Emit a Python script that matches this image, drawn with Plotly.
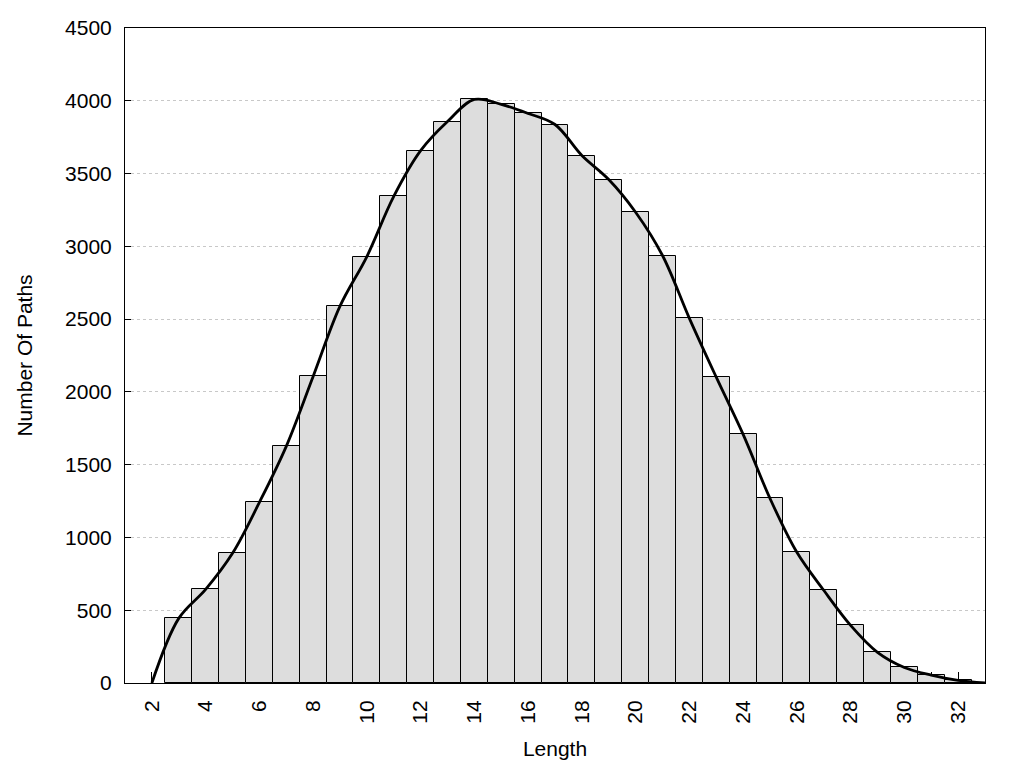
import plotly.graph_objects as go

# Data
lengths = list(range(3, 33))
counts = [444, 643, 891, 1241, 1626, 2106, 2589, 2930, 3343, 3657,
          3857, 4009, 3975, 3913, 3837, 3624, 3459, 3234, 2937, 2505,
          2101, 1708, 1268, 898, 637, 396, 211, 107, 54, 18]

curve_x = [2] + lengths + [33]
curve_y = [0] + counts + [0]

x_tickvals = list(range(2, 33))
x_ticktext = [str(v) if v % 2 == 0 else "" for v in x_tickvals]
y_tickvals = [0, 500, 1000, 1500, 2000, 2500, 3000, 3500, 4000, 4500]

FONT = "Liberation Sans, Arial, sans-serif"

fig = go.Figure()
fig.add_trace(go.Bar(
    x=lengths, y=counts, width=1,
    marker=dict(color="#dddddd", line=dict(color="black", width=1)),
    showlegend=False,
))
fig.add_trace(go.Scatter(
    x=curve_x, y=curve_y, mode="lines",
    line=dict(color="black", width=2.8, shape="spline", smoothing=1.0),
    showlegend=False,
))

fig.update_layout(
    width=1024, height=768,
    margin=dict(l=117, r=47, t=20, b=93),
    paper_bgcolor="white", plot_bgcolor="white",
    font=dict(family=FONT, size=21, color="black"),
    bargap=0,
)
fig.update_xaxes(
    range=[1, 33], automargin=False,
    tickmode="array", tickvals=x_tickvals, ticktext=x_ticktext,
    tickangle=-90,
    ticks="inside", ticklen=11, tickcolor="black", tickwidth=1,
    ticklabelstandoff=8,
    showline=True, linecolor="black", linewidth=1, mirror=True,
    showgrid=False, zeroline=False, layer="below traces",
    title=dict(text="Length", standoff=18, font=dict(size=21)),
    tickfont=dict(size=21),
)
fig.update_yaxes(
    range=[0, 4500], automargin=False,
    tickmode="array", tickvals=y_tickvals,
    ticks="inside", ticklen=6, tickcolor="black", tickwidth=1,
    ticklabelstandoff=8,
    showline=True, linecolor="black", linewidth=1, mirror=True,
    showgrid=True, gridcolor="#c8c8c8", gridwidth=1, griddash="dot",
    zeroline=False, layer="below traces",
    title=dict(text="Number Of Paths", standoff=26, font=dict(size=21)),
    tickfont=dict(size=21),
)

fig.write_html("out.html")
